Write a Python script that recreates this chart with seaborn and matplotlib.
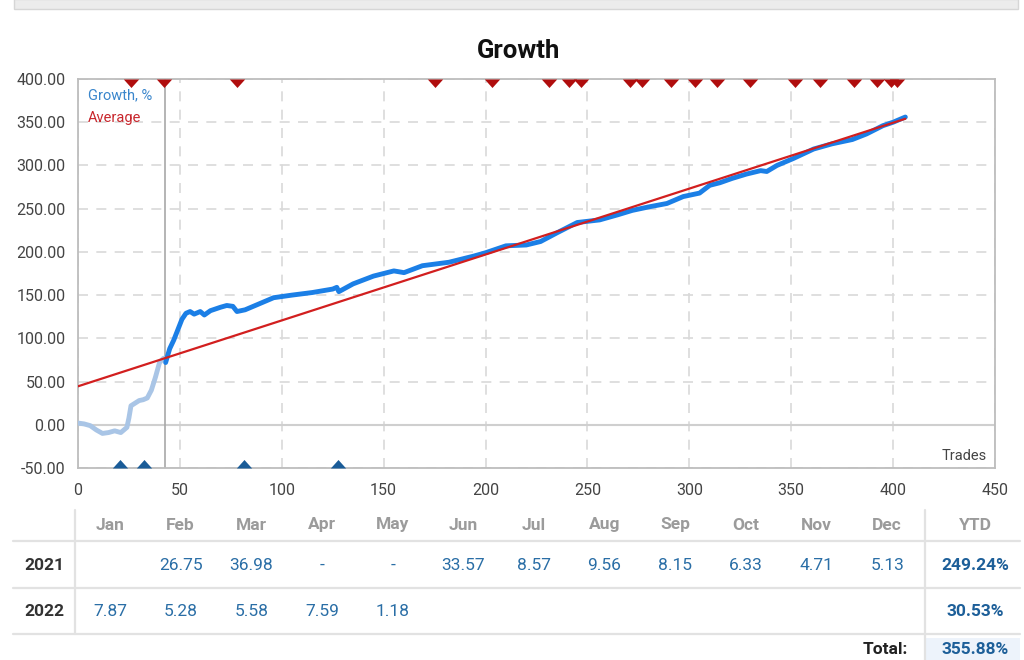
import matplotlib
matplotlib.use("Agg")
import matplotlib.pyplot as plt
import seaborn as sns
import pandas as pd
from matplotlib.markers import MarkerStyle
from matplotlib.lines import Line2D
from matplotlib.patches import Rectangle

# ---- chart data ----
trades_early = [0, 3, 6, 9, 12, 15, 18, 21, 23, 24, 25, 26, 28, 30, 32, 34, 36, 38, 40, 42, 43]
growth_early = [2, 1, -1, -6, -10, -9, -7, -9, -5, -3, 8, 22, 25, 28, 29, 31, 40, 55, 72, 77, 76]

trades_main = [43, 44, 45, 47, 49, 51, 53, 55, 57, 60, 62, 65, 70, 73, 76, 78, 82, 88, 96,
               105, 115, 125, 127, 128, 135, 145, 155, 160, 169, 182, 194, 200, 210, 220,
               227, 235, 245, 256, 265, 272, 280, 289, 297, 305, 310, 315, 321, 328, 335,
               338, 343, 351, 361, 370, 380, 387, 395, 400, 406]
growth_main = [72, 80, 88, 98, 110, 122, 129, 131, 128, 131, 127, 132, 136, 138, 137, 131, 133,
               139, 147, 150, 153, 157, 159, 154, 163, 172, 178, 176, 184, 188, 195, 199, 207,
               208, 212, 222, 234, 237, 243, 248, 252, 256, 264, 268, 277, 280, 285, 290, 294,
               293, 300, 308, 319, 325, 330, 336.5, 346, 350, 356]

avg_trades = [0, 406]
avg_growth = [44.5, 354]

deposit_trades = [26, 42, 78, 175, 203, 231, 241, 247, 271, 277, 291, 303, 313.5, 330,
                  352, 364, 381, 392, 399, 402]
withdraw_trades = [20.6, 32.4, 81.5, 127.6]
crosshair_trade = 42.5

months = ["Jan", "Feb", "Mar", "Apr", "May", "Jun", "Jul", "Aug", "Sep", "Oct", "Nov", "Dec"]
years = ["2021", "2022"]
row_2021 = ["", "26.75", "36.98", "-", "-", "33.57", "8.57", "9.56", "8.15", "6.33", "4.71", "5.13"]
row_2022 = ["7.87", "5.28", "5.58", "7.59", "1.18", "", "", "", "", "", "", ""]
ytd = ["249.24%", "30.53%"]
total = "355.88%"

y_min, y_max = -50, 400

# ---- style ----
sns.set_style("white")
plt.rcParams["font.family"] = ["Roboto", "DejaVu Sans"]

W, H = 1024, 660
fig = plt.figure(figsize=(W / 100, H / 100), dpi=100)
ax = fig.add_axes([78 / W, 1 - 468 / H, 917 / W, 389 / H])

def fx(px):
    return px / W

def fy(py):
    return 1 - py / H

early = pd.DataFrame({"trade": trades_early, "growth": growth_early})
main = pd.DataFrame({"trade": trades_main, "growth": growth_main})
avg = pd.DataFrame({"trade": avg_trades, "growth": avg_growth})

sns.lineplot(data=early, x="trade", y="growth", ax=ax, color="#a9c5e6", lw=3.5,
             estimator=None, sort=False, zorder=3)
sns.lineplot(data=main, x="trade", y="growth", ax=ax, color="#1b7fe6", lw=3.5,
             estimator=None, sort=False, zorder=3)
sns.lineplot(data=avg, x="trade", y="growth", ax=ax, color="#d21f1f", lw=1.6,
             estimator=None, sort=False, zorder=4)

down_tri = MarkerStyle([(-0.9, 0), (0.9, 0), (0, -1), (-0.9, 0)])
up_tri = MarkerStyle([(-0.9, 0), (0.9, 0), (0, 1), (-0.9, 0)])
sns.scatterplot(x=deposit_trades, y=[y_max] * len(deposit_trades), ax=ax, marker=down_tri,
                s=150, color="#b00d0d", linewidth=0, clip_on=False, zorder=5)
sns.scatterplot(x=withdraw_trades, y=[y_min] * len(withdraw_trades), ax=ax, marker=up_tri,
                s=150, color="#1a5c98", linewidth=0, clip_on=False, zorder=5)

ax.axvline(crosshair_trade, color="#a8a8a8", lw=1.2, zorder=2)
ax.axhline(0, color="#cfcfcf", lw=1.5, zorder=1)

ax.set_xlim(0, 450)
ax.set_ylim(y_min, y_max)
ax.set_xticks(range(0, 451, 50))
ax.set_yticks(range(-50, 401, 50))
ax.set_yticklabels([f"{v:.2f}" for v in range(-50, 401, 50)])
ax.tick_params(length=0, labelsize=11.5, labelcolor="#444444")
ax.tick_params(axis="y", pad=9)
ax.tick_params(axis="x", pad=11)
ax.grid(True, color="#d9d9d9", lw=1.2, linestyle=(0, (6, 5)), zorder=0)
for sp in ax.spines.values():
    sp.set_color("#bdbdbd")
    sp.set_linewidth(1.3)
ax.set_xlabel("")
ax.set_ylabel("")

ax.text(0.011, 0.959, "Growth, %", transform=ax.transAxes, color="#3a86cc", fontsize=10.5,
        va="center", ha="left")
ax.text(0.011, 0.900, "Average", transform=ax.transAxes, color="#c8262c", fontsize=10.5,
        va="center", ha="left")
ax.text(0.991, 0.031, "Trades", transform=ax.transAxes, color="#444444", fontsize=10.5,
        va="center", ha="right")

fig.text(fx(519), fy(51), "Growth", fontsize=18.5, fontweight="bold", color="#111111",
         ha="center", va="center")

# top bar
fig.patches.append(Rectangle((fx(14), fy(9)), fx(1004), 10 / H, transform=fig.transFigure,
                             facecolor="#ececec", edgecolor="#d6d6d6", lw=1))

# ---- table ----
line_c = "#e2e2e2"
for py in (541, 588, 634):
    fig.add_artist(Line2D([fx(13), fx(1020)], [fy(py), fy(py)], color=line_c, lw=1.6))
fig.add_artist(Line2D([fx(75), fx(75)], [fy(510), fy(634)], color=line_c, lw=1.6))
fig.add_artist(Line2D([fx(925), fx(925)], [fy(510), fy(660)], color=line_c, lw=1.6))
fig.patches.append(Rectangle((fx(926), 0), fx(94), 22 / H, transform=fig.transFigure,
                             facecolor="#edf3fb", edgecolor="none"))

col_x = [110 + 70.65 * i for i in range(12)]
row_y = [565, 611]
for cx, m in zip(col_x, months):
    fig.text(fx(cx), fy(525), m, ha="center", va="center", fontsize=12.5,
             fontweight="bold", color="#9b9b9b")
fig.text(fx(975), fy(525), "YTD", ha="center", va="center", fontsize=12.5,
         fontweight="bold", color="#9b9b9b")
for ry, yr, row, yt in zip(row_y, years, [row_2021, row_2022], ytd):
    fig.text(fx(44), fy(ry), yr, ha="center", va="center", fontsize=12.5,
             fontweight="bold", color="#333333")
    for cx, v in zip(col_x, row):
        if v:
            fig.text(fx(cx), fy(ry), v, ha="center", va="center", fontsize=12.5,
                     color="#2a6ea6")
    fig.text(fx(975), fy(ry), yt, ha="center", va="center", fontsize=12.5,
             fontweight="bold", color="#1d5f99")
fig.text(fx(908), fy(650), "Total:", ha="right", va="center", fontsize=12.5,
         fontweight="bold", color="#222222")
fig.text(fx(975), fy(650), total, ha="center", va="center", fontsize=12.5,
         fontweight="bold", color="#1d5f99")

fig.savefig("out.png", dpi=100)
